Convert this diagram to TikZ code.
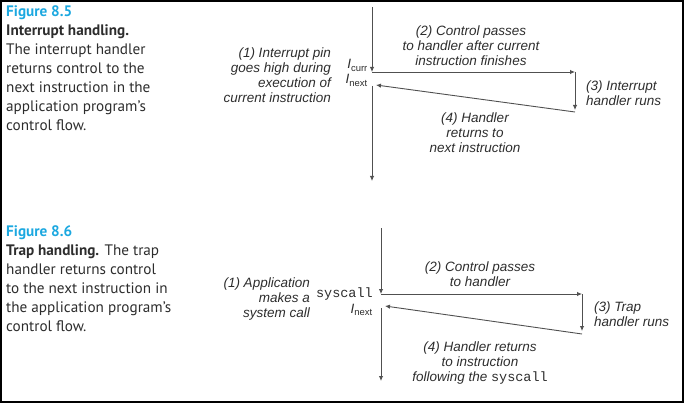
\documentclass[tikz,border=0pt]{standalone}
\usepackage{fontspec}
\setmainfont{PT Sans}
\setmonofont{Liberation Mono}
\newfontfamily\diagfont{Liberation Sans}
\usetikzlibrary{arrows.meta,positioning}

\definecolor{figblue}{RGB}{28,168,224}
\definecolor{linegray}{RGB}{80,80,80}
\definecolor{inkgray}{RGB}{45,45,45}

\tikzset{
  flow/.style={draw=linegray, line width=0.9pt, -{Latex[length=5pt,width=4.5pt]}},
  note/.style={font=\diagfont\itshape\fontsize{13.5}{15}\selectfont, text=inkgray, inner sep=0pt},
  instr/.style={font=\diagfont\fontsize{13.5}{15}\selectfont, text=inkgray, inner sep=0pt, anchor=base east},
  caption/.style={font=\fontsize{15.2}{19}\selectfont, text=inkgray, align=left, anchor=north west, inner sep=0pt}
}

\begin{document}
\begin{tikzpicture}[x=1pt,y=-1pt]
\useasboundingbox (0,0) rectangle (684,403);
\draw[line width=1.5pt] (1,1) rectangle (683,402);

% captions
\node[caption] (cap85) at (6,5) {\textcolor{figblue}{\textbf{Figure 8.5}}\\
  \textbf{Interrupt handling.}\\ The interrupt handler\\ returns control to the\\
  next instruction in the\\ application program’s\\ control flow.};
\node[caption] (cap86) at (6,225) {\textcolor{figblue}{\textbf{Figure 8.6}}\\
  \textbf{Trap handling.} The trap\\ handler returns control\\ to the next instruction in\\
  the application program’s\\ control flow.};

% Figure 8.5: interrupt
\coordinate (intop) at (372,7);
\coordinate (incurr) at (372,72);
\coordinate (inhand) at (575,72);
\coordinate (inrun) at (575,110);
\coordinate (inret) at (575,112);
\coordinate (innext) at (376,85);
\coordinate (inresume) at (372,86);
\coordinate (inend) at (372,181);

\draw[flow] (intop) -- (incurr);
\draw[flow] (incurr) -- (inhand);
\draw[flow] (inhand) -- (inrun);
\draw[flow] (inret) -- (innext);
\draw[flow] (inresume) -- (inend);

\node[instr] (icurr) at (368,69) {\textit{I}\textsubscript{curr}};
\node[instr] (inext) at (368,84) {\textit{I}\textsubscript{next}};

\node[note, align=right, anchor=north east] (instep1) at (331,48)
  {(1) Interrupt pin\\ goes high during\\ execution of\\ current instruction};
\node[note, align=center, anchor=north] (instep2) at (471,26)
  {(2) Control passes\\ to handler after current\\ instruction finishes};
\node[note, align=left, anchor=north west] (instep3) at (586,81)
  {(3) Interrupt\\ handler runs};
\node[note, align=center, anchor=north] (instep4) at (475,113)
  {(4) Handler\\ returns to\\ next instruction};

% Figure 8.6: trap
\coordinate (trtop) at (381,228);
\coordinate (trcall) at (381,294);
\coordinate (trhand) at (582,294);
\coordinate (trrun) at (582,331);
\coordinate (trret) at (582,334);
\coordinate (trnext) at (385,306);
\coordinate (trresume) at (381,308);
\coordinate (trend) at (381,381);

\draw[flow] (trtop) -- (trcall);
\draw[flow] (trcall) -- (trhand);
\draw[flow] (trhand) -- (trrun);
\draw[flow] (trret) -- (trnext);
\draw[flow] (trresume) -- (trend);

\node[instr] (syscall) at (373,297) {\texttt{syscall}};
\node[instr] (tnext) at (373,313) {\textit{I}\textsubscript{next}};

\node[note, align=right, anchor=north east] (trstep1) at (310,278)
  {(1) Application\\ makes a\\ system call};
\node[note, align=center, anchor=north] (trstep2) at (480,262)
  {(2) Control passes\\ to handler};
\node[note, align=left, anchor=north west] (trstep3) at (594,302)
  {(3) Trap\\ handler runs};
\node[note, align=center, anchor=north] (trstep4) at (480,342)
  {(4) Handler returns\\ to instruction\\ following the \upshape\texttt{syscall}};
\end{tikzpicture}
\end{document}
